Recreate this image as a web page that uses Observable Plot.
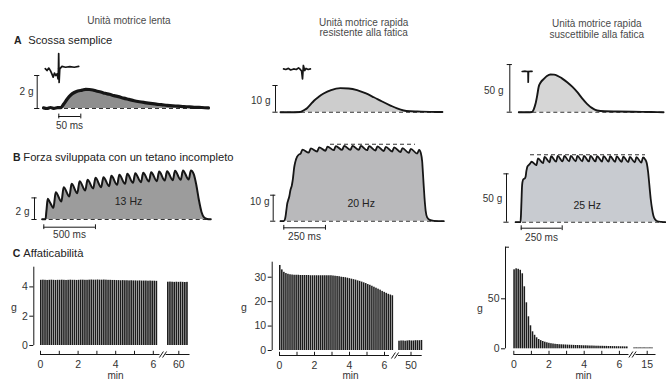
<!DOCTYPE html>
<html><head><meta charset="utf-8">
<script src="https://cdn.jsdelivr.net/npm/d3@7"></script>
<script src="https://cdn.jsdelivr.net/npm/@observablehq/plot@0.6"></script>
<style>
body{margin:0;background:#fff;}
#fig{position:relative;width:666px;height:381px;overflow:hidden;background:#fff;font-family:"Liberation Sans",Arial,sans-serif;}
.head{position:absolute;font-size:10px;line-height:10.6px;color:#4a4a4a;text-align:center;white-space:nowrap;transform:translateX(-50%);}
.sec{position:absolute;font-size:11.2px;line-height:14px;color:#222;white-space:nowrap;}
.sec b{font-weight:bold;font-size:10.5px;}
</style></head>
<body><div id="fig"></div>
<script>
// ================= DATA =================
const columnTitles = [["Unità motrice lenta"], ["Unità motrice rapida", "resistente alla fatica"], ["Unità motrice rapida", "suscettibile alla fatica"]];
const rowLetters = ["A", "B", "C"];
const rowTitles = ["Scossa semplice", "Forza sviluppata con un tetano incompleto", "Affaticabilità"];

// A — single twitch, [ms, g]
const twitchSlow = [[0,0.04],[8,0.0],[16,0.06],[24,0.01],[32,0.05],[39,0.05],[46,0.27],[54,0.58],[62,0.82],[70,0.97],[78,1.06],[88,1.11],[96,1.16],[104,1.15],[112,1.12],[120,1.06],[130,1.0],[140,0.92],[150,0.86],[160,0.78],[170,0.72],[182,0.63],[194,0.55],[206,0.47],[218,0.41],[230,0.36],[243,0.31],[256,0.26],[268,0.23],[281,0.19],[294,0.16],[306,0.14],[319,0.11],[332,0.1],[345,0.07],[360,0.06],[375,0.04]];
const twitchFR = [[0,0],[20,0],[45,0.1],[55,0.9],[61,1.6],[68,2.8],[76,4.3],[87,5.8],[98,7.0],[115,8.3],[136,9.0],[155,8.9],[174,8.3],[193,7.1],[212,5.6],[231,4.0],[250,2.5],[265,1.4],[280,0.63],[295,0.35],[311,0.26],[340,0.12],[368,0.05]];
const twitchFF = [[0,0],[20,0],[30,0.2],[34,3],[38,8.8],[42,18],[45,26.2],[50,31.5],[57,35],[64,38],[72,39.6],[80,39.4],[87,38.5],[98,35.5],[110,31.5],[122,26.5],[133,21],[144,14.5],[155,8.8],[166,4.5],[178,1.8],[195,1.0],[224,0.7],[260,0.4],[300,0.2],[329,0]];
const stimSlow = [[4,2.42],[8,2.3],[12,2.45],[16,2.28],[19,2.1],[22,1.9],[25,2.15],[28,2.0],[31,2.1],[33,1.8],[34,2.4],[34.5,3.33],[35.5,1.58],[37,2.4],[42,2.55],[50,2.5],[60,2.54],[70,2.5],[80,2.55]];
const stimFR = [[7,16.2],[12,16.0],[18,16.4],[23,15.8],[30,16.2],[36,16.0],[41,16.6],[45,16.0],[48,15.4],[50,12.5],[52,17.5],[55,15.6],[58,16.4],[63,16.0],[68,16.2]];
const stimFF = [[7.7,42.7],[15,43],[21,42.7],[21.4,31.5],[22,42.7],[26.6,42.9],[30,42.8]];
const twitchForceBar = [2, 10, 50];   // g
const twitchTimeBar = 50;             // ms

// B — incomplete tetanus, [ms, g]
const tetanusSlow = [[-32,0.02],[0,0.02],[10,0.9],[22,1.91],[45,1.55],[77,1.08],[99,2.53],[154,1.67],[176,2.99],[231,2.13],[253,3.30],[308,2.44],[330,3.55],[385,2.69],[407,3.67],[462,2.87],[484,3.86],[539,2.99],[561,3.92],[616,3.09],[638,4.04],[693,3.21],[715,4.14],[770,3.30],[792,4.23],[847,3.40],[869,4.29],[924,3.45],[946,4.32],[1001,3.52],[1023,4.38],[1078,3.55],[1100,4.44],[1155,3.61],[1177,4.47],[1232,3.64],[1254,4.51],[1309,3.67],[1331,4.54],[1386,3.70],[1408,4.54],[1435,4.2],[1460,3.2],[1485,1.8],[1510,0.7],[1535,0.2],[1565,0.05],[1600,0.02]];
const tetanusFR = [[-20,0],[0,0],[8,1],[14,3.5],[20,6.5],[26,8.0],[33,9.5],[40,12.0],[48,13.7],[55,16.5],[62,20.5],[70,23.0],[80,24.8],[92,25.7],[100,25.9],[112,27.5],[150,26.4],[162,28.0],[200,26.8],[212,28.4],[250,27.1],[262,28.7],[300,27.3],[312,28.9],[350,27.4],[362,29.0],[400,27.4],[412,29.0],[450,27.4],[462,29.0],[500,27.3],[512,28.9],[550,27.2],[562,28.8],[600,27.0],[612,28.6],[650,26.8],[662,28.4],[700,26.6],[712,28.1],[750,26.3],[762,27.8],[800,26.0],[812,27.4],[822,26.2],[830,23],[837,16],[844,9],[851,4],[860,1.5],[875,0.5],[900,0.15],[960,0]];
const tetanusFF = [[-30,0],[0,0],[3,8],[6,22],[9,36],[12,41.5],[18,44.5],[25,45],[31,47],[36,53],[42,57.5],[50,59],[58,60.5],[67,62.5],[97,59],[107,66],[137,61],[147,67.5],[177,62],[187,68.2],[217,62.6],[227,68.5],[257,62.8],[267,68.6],[297,62.9],[307,68.6],[337,62.9],[347,68.6],[377,62.9],[387,68.5],[417,62.8],[427,68.5],[457,62.8],[467,68.4],[497,62.7],[507,68.3],[537,62.6],[547,68.2],[577,62.5],[587,68.0],[617,62.3],[627,67.8],[657,62.1],[667,67.6],[697,61.9],[707,67.3],[737,61.6],[747,66.9],[760,65],[770,61],[778,52],[786,38],[794,24],[802,14],[810,7],[820,3],[835,1],[860,0.3],[884,0]];
const tetanusFusedMax = [null, 29.6, 69.8];   // g, dashed reference of full tetanus
const tetanusFreq = ["13 Hz", "20 Hz", "25 Hz"];
const tetanusForceBar = [2, 10, 50];   // g
const tetanusTimeBar = [500, 250, 250]; // ms

// C — fatigability, peak force (g) of successive trains
const fatigueSlowEarly = [4.45,4.46,4.45,4.44,4.45,4.46,4.45,4.44,4.45,4.45,4.46,4.45,4.44,4.45,4.46,4.45,4.45,4.44,4.45,4.46,4.46,4.45,4.45,4.46,4.47,4.46,4.46,4.47,4.46,4.46,4.47,4.46,4.45,4.45,4.44,4.44,4.43,4.43,4.42,4.43,4.42,4.42,4.41,4.42,4.41,4.41,4.40,4.41,4.40,4.40,4.40,4.39,4.40,4.39,4.39,4.38];
const fatigueSlowLate = [4.32,4.33,4.32,4.31,4.32,4.31,4.32,4.31,4.30,4.31];
const fatigueFREarly = [34.8,33.0,32.0,31.5,31.2,31.0,30.9,30.8,30.8,30.8,30.7,30.7,30.7,30.7,30.7,30.6,30.6,30.6,30.6,30.6,30.6,30.6,30.6,30.6,30.6,30.6,30.5,30.4,30.3,30.2,30.0,29.9,29.8,29.6,29.4,29.2,29.0,28.8,28.5,28.3,28.0,27.7,27.4,27.0,26.7,26.3,25.9,25.5,25.1,24.7,24.2,23.8,23.4,23.0,22.7,22.4];
const fatigueFRLate = [3.8,3.9,3.9,3.8,3.9,4.0,3.9,3.9,4.0,4.0,4.0,4.1];
const fatigueFFEarly = [79,80,79.5,78.5,75,62,46,32,23,17,13.5,11,9.3,8.2,7.3,6.6,6.0,5.5,5.1,4.8,4.5,4.3,4.1,4.0,3.9,3.8,3.7,3.6,3.5,3.4,3.3,3.3,3.2,3.1,3.0,3.0,2.9,2.8,2.8,2.7,2.6,2.6,2.5,2.5,2.4,2.4,2.3,2.3,2.2,2.2,2.1,2.1,2.0,2.0,1.9,1.9];
const fatigueFFLate = [0.9,1.0,0.9,1.0,0.9,1.0,0.9,0.9,1.0,0.9];
const fatigueYTicks = [[0,2,4],[0,10,20,30],[0,50]];
const fatigueXMinor = [0,1,2,3,4,5,6];
const fatigueXLabels = [0,2,4,6];
const fatigueLateTick = [60, 50, 15];            // min
const fatigueEarlySpan = [[0,6.26],[0,6.55],[0,6.52]];   // min
const fatigueLateSpan = [[59.4,60.53],[49.3,50.7],[14.24,15.37]]; // min
const fatigueYLabel = "g", fatigueXLabel = "min";

// ================= LAYOUT (pixels) =================
const INK = "#161616", TXT = "#333";
const FONT = '"Liberation Sans", Arial, sans-serif';
const headLayout = [{cx:129, top:16}, {cx:363.7, top:17.6}, {cx:596.8, top:19.2}];
const secLayout = [{lx:14, tx:28.3, top:33}, {lx:13, tx:23.3, top:149.7}, {lx:12.7, tx:23.3, top:246.3}];

const twitchLayout = [
  {left:0, top:45, width:230, height:90, x0:43, kx:0.44, y0:108, ky:16.5, fill:"#8e8e8e", lw:3.2,
   bar:36.7, gLabel:[33,91], timeBar:[58.3,116], timeLabel:[69,125]},
  {left:230, top:45, width:220, height:90, x0:280, kx:0.44, y0:111.7, ky:2.67, fill:"#cdcdcd", lw:1.9,
   bar:275, gLabel:[270,100]},
  {left:450, top:45, width:216, height:90, x0:518.3, kx:0.44, y0:111.7, ky:0.953, fill:"#d6d6d6", lw:1.9,
   bar:509.3, gLabel:[503,90]}
];
const tetanusLayout = [
  {left:0, top:140, width:230, height:105, x0:45, kx:0.1033, y0:219, ky:10.8, fill:"#9c9c9c", lw:2,
   bar:34, gLabel:[29,211], timeBar:[43.3,226.7], timeLabel:[69,234.5], hz:[128,201]},
  {left:230, top:140, width:220, height:105, x0:283.3, kx:0.1667, y0:220.7, ky:2.6, fill:"#b9b9bb", lw:1.8,
   bar:272.7, gLabel:[269,201], timeBar:[283.3,227.3], timeLabel:[304,236], hz:[360.7,203.3], topDash:[330,415]},
  {left:450, top:140, width:216, height:105, x0:520, kx:0.164, y0:221.7, ky:0.967, fill:"#c8cbd0", lw:1.8,
   bar:506, gLabel:[501.7,198], timeBar:[520.7,227.7], timeLabel:[541,237], hz:[586.7,205], topDash:[530,645]}
];
const fatigueLayout = [
  {left:0, top:245, width:230, height:136, x0:40, kx:18.8, y0:345, ky:14.65,
   yAxis:33.3, yTop:266.7, xAxis:354, seg1:[40,159.5], slash:162.5, seg2:[165.5,189.5], lateTickPx:178.3,
   gLabel:[13.3,306.7], minLabel:[115,375.2], topTick:false},
  {left:230, top:245, width:220, height:136, x0:279, kx:17.5, y0:350, ky:2.443,
   yAxis:271.7, yTop:261.7, xAxis:355, seg1:[279,389], slash:394.5, seg2:[398,421.7], lateTickPx:410.5,
   gLabel:[243.3,306.7], minLabel:[350,375.5], topTick:false},
  {left:450, top:245, width:216, height:136, x0:513.3, kx:17.6, y0:348.3, ky:1.0,
   yAxis:505, yTop:246.7, xAxis:354, seg1:[513.3,628.5], slash:632, seg2:[635.5,655.5], lateTickPx:646.7,
   gLabel:[479.3,308.3], minLabel:[583,375.5], topTick:true}
];

// ================= RENDER =================
const fig = document.getElementById("fig");

columnTitles.forEach((lines, i) => {
  const d = document.createElement("div");
  d.className = "head";
  d.style.left = headLayout[i].cx + "px";
  d.style.top = headLayout[i].top + "px";
  d.innerHTML = lines.join("<br>");
  fig.appendChild(d);
});
rowLetters.forEach((L, i) => {
  const a = document.createElement("div");
  a.className = "sec"; a.style.left = secLayout[i].lx + "px"; a.style.top = secLayout[i].top + "px";
  a.innerHTML = "<b>" + L + "</b>";
  fig.appendChild(a);
  const t = document.createElement("div");
  t.className = "sec"; t.style.left = secLayout[i].tx + "px"; t.style.top = secLayout[i].top + "px";
  t.textContent = rowTitles[i];
  fig.appendChild(t);
});

function panel(L, build) {
  const X = px => (px - L.x0) / L.kx;
  const Y = py => (L.y0 - py) / L.ky;
  const marks = build(X, Y);
  const svg = Plot.plot({
    width: L.width, height: L.height, margin: 0,
    x: {domain: [X(L.left), X(L.left + L.width)], axis: null},
    y: {domain: [Y(L.top + L.height), Y(L.top)], axis: null},
    style: {background: "transparent", overflow: "visible", fontFamily: FONT, fontSize: "10px", color: TXT},
    marks
  });
  svg.style.position = "absolute";
  svg.style.left = L.left + "px";
  svg.style.top = L.top + "px";
  fig.appendChild(svg);
}

const px = d => d[0], py = d => d[1];

function forceBar(X, L, g) {
  const t = X(L.bar), cap = 2.6 / L.kx;
  return [
    Plot.ruleX([t], {y1: 0, y2: g, stroke: INK, strokeWidth: 1}),
    Plot.ruleY([0, g], {x1: t - cap, x2: t + cap, stroke: INK, strokeWidth: 1})
  ];
}
function timeBar(X, Y, L, ms) {
  const t0 = X(L.timeBar[0]), g = Y(L.timeBar[1]), cap = 2.4 / L.ky;
  return [
    Plot.ruleY([g], {x1: t0, x2: t0 + ms, stroke: INK, strokeWidth: 1}),
    Plot.ruleX([t0, t0 + ms], {y1: g - cap, y2: g + cap, stroke: INK, strokeWidth: 1}),
    Plot.text([ms + " ms"], {x: X(L.timeLabel[0]), y: Y(L.timeLabel[1]), fill: TXT, fontSize: 10})
  ];
}

// Row A
[twitchSlow, twitchFR, twitchFF].forEach((trace, i) => {
  const L = twitchLayout[i];
  const stim = [stimSlow, stimFR, stimFF][i];
  panel(L, (X, Y) => [
    Plot.areaY(trace, {x: px, y: py, fill: L.fill, curve: "monotone-x"}),
    Plot.ruleY([0], {x1: trace[0][0], x2: trace[trace.length - 1][0], stroke: "#333", strokeWidth: 1.1, strokeDasharray: "4,3"}),
    Plot.line(trace, {x: px, y: py, stroke: INK, strokeWidth: L.lw, curve: "monotone-x"}),
    Plot.line(stim, {x: px, y: py, stroke: INK, strokeWidth: 1.7}),
    ...forceBar(X, L, twitchForceBar[i]),
    Plot.text([twitchForceBar[i] + " g"], {x: X(L.gLabel[0]), y: Y(L.gLabel[1]), textAnchor: "end", fill: TXT, fontSize: 10}),
    ...(L.timeBar ? timeBar(X, Y, L, twitchTimeBar) : [])
  ]);
});

// Row B
[tetanusSlow, tetanusFR, tetanusFF].forEach((trace, i) => {
  const L = tetanusLayout[i];
  panel(L, (X, Y) => [
    Plot.areaY(trace, {x: px, y: py, fill: L.fill, curve: "monotone-x"}),
    Plot.ruleY([0], {x1: trace[0][0], x2: trace[trace.length - 1][0], stroke: "#333", strokeWidth: 1.1, strokeDasharray: "4,3"}),
    ...(tetanusFusedMax[i] != null ? [Plot.ruleY([tetanusFusedMax[i]], {x1: X(L.topDash[0]), x2: X(L.topDash[1]), stroke: "#333", strokeWidth: 1.1, strokeDasharray: "4,3"})] : []),
    Plot.line(trace, {x: px, y: py, stroke: INK, strokeWidth: L.lw, curve: "monotone-x"}),
    ...forceBar(X, L, tetanusForceBar[i]),
    Plot.text([tetanusForceBar[i] + " g"], {x: X(L.gLabel[0]), y: Y(L.gLabel[1]), textAnchor: "end", fill: TXT, fontSize: 10}),
    Plot.text([tetanusFreq[i]], {x: X(L.hz[0]), y: Y(L.hz[1]), fill: "#222", fontSize: 10.5}),
    ...timeBar(X, Y, L, tetanusTimeBar[i])
  ]);
});

// Row C
[[fatigueSlowEarly, fatigueSlowLate], [fatigueFREarly, fatigueFRLate], [fatigueFFEarly, fatigueFFLate]].forEach(([early, late], i) => {
  const L = fatigueLayout[i];
  const es = fatigueEarlySpan[i], ls = fatigueLateSpan[i], lt = fatigueLateTick[i];
  panel(L, (X, Y) => {
    const lateU = t => X(L.lateTickPx) + (t - lt);
    const we = (es[1] - es[0]) / early.length;
    const wl = (ls[1] - ls[0]) / late.length;
    const ax = X(L.yAxis), ay = Y(L.xAxis);
    const tUp = 3.2 / L.ky, tLeft = 4 / L.kx;
    const yTop = Y(L.yTop);
    const slashes = [-1.6, 1.6].map(o => ({
      x1: X(L.slash + o - 2), y1: Y(L.xAxis + 3), x2: X(L.slash + o + 2), y2: Y(L.xAxis - 3)
    }));
    return [
      Plot.rect(early, {x1: (d, j) => es[0] + j * we, x2: (d, j) => es[0] + (j + 1) * we, y1: 0, y2: d => d, fill: "#1c1c1c", insetRight: 0.5}),
      Plot.rect(late, {x1: (d, j) => lateU(ls[0] + j * wl), x2: (d, j) => lateU(ls[0] + (j + 1) * wl), y1: 0, y2: d => d, fill: "#1c1c1c", insetRight: 0.5}),
      // y axis
      Plot.ruleX([ax], {y1: 0, y2: yTop, stroke: INK, strokeWidth: 1}),
      Plot.ruleY(fatigueYTicks[i], {x1: ax - tLeft, x2: ax, stroke: INK, strokeWidth: 1}),
      ...(L.topTick ? [Plot.ruleY([yTop], {x1: ax, x2: ax + tLeft, stroke: INK, strokeWidth: 1})] : []),
      Plot.text(fatigueYTicks[i], {x: ax, y: d => d, dx: -6, textAnchor: "end", text: d => String(d), fill: TXT, fontSize: 10.5}),
      Plot.text([fatigueYLabel], {x: X(L.gLabel[0]), y: Y(L.gLabel[1]), fill: TXT, fontSize: 10.5}),
      // x axis (broken)
      Plot.ruleY([ay], {x1: X(L.seg1[0]), x2: X(L.seg1[1]), stroke: INK, strokeWidth: 1}),
      Plot.ruleY([ay], {x1: X(L.seg2[0]), x2: X(L.seg2[1]), stroke: INK, strokeWidth: 1}),
      Plot.link(slashes, {x1: "x1", y1: "y1", x2: "x2", y2: "y2", stroke: INK, strokeWidth: 1}),
      Plot.ruleX(fatigueXMinor, {y1: ay, y2: ay + tUp, stroke: INK, strokeWidth: 1}),
      Plot.ruleX([lateU(lt)], {y1: ay, y2: ay + tUp, stroke: INK, strokeWidth: 1}),
      Plot.text(fatigueXLabels, {x: d => d, y: ay, dy: 10, text: d => String(d), fill: TXT, fontSize: 10.5}),
      Plot.text([lt], {x: lateU, y: ay, dy: 10, text: d => String(d), fill: TXT, fontSize: 10.5}),
      Plot.text([fatigueXLabel], {x: X(L.minLabel[0]), y: Y(L.minLabel[1]), fill: TXT, fontSize: 10})
    ];
  });
});
</script>
</body></html>
